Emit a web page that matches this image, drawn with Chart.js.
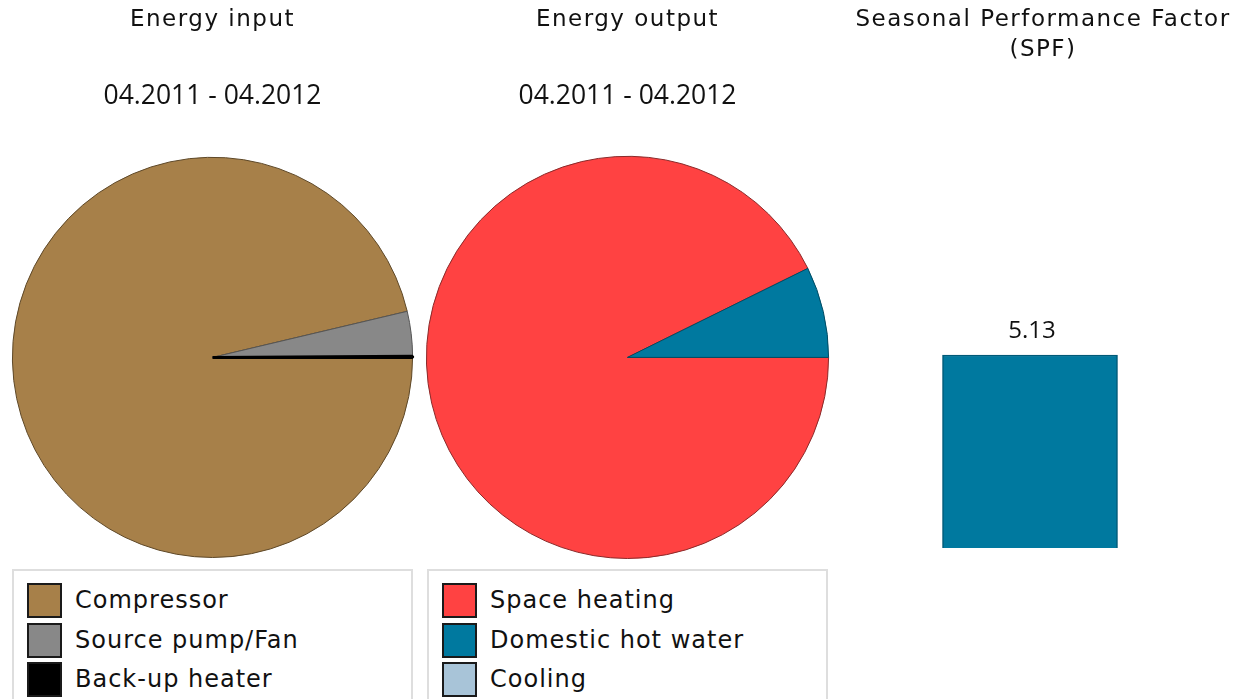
<!DOCTYPE html>
<html>
<head>
<meta charset="utf-8">
<title>Energy input / output and SPF</title>
<script src="https://cdn.jsdelivr.net/npm/chart.js@4.4.1/dist/chart.umd.min.js"></script>
<style>
    html, body { margin: 0; padding: 0; background: #fff; }
    body { width: 1239px; height: 699px; position: relative; overflow: hidden; }
    .panel { position: absolute; top: 0; height: 560px; }
    .legend-box {
        position: absolute; top: 569px; height: 150px;
        border: 2px solid #dedede; box-sizing: border-box; background: #fff;
    }
    .legend-item { position: absolute; left: 0; height: 36px; width: 100%; }
    .legend-swatch {
        position: absolute; left: 13px; top: 0; width: 35px; height: 35px;
        border: 2px solid #1a1a1a; box-sizing: border-box;
    }
    .legend-text {
        position: absolute; left: 61px; top: 0; line-height: 35px;
        font-family: "DejaVu Sans", Verdana, sans-serif; font-size: 24px;
        letter-spacing: 1px; color: #111; white-space: nowrap;
    }
</style>
</head>
<body>
<div class="panel" style="left:0;width:425px;"><canvas id="inputChart"></canvas></div>
<div class="panel" style="left:415px;width:425px;"><canvas id="outputChart"></canvas></div>
<div class="panel" style="left:847px;width:392px;"><canvas id="spfChart"></canvas></div>
<div class="legend-box" id="inputLegend" style="left:12px;width:401px;"></div>
<div class="legend-box" id="outputLegend" style="left:427px;width:401px;"></div>

<script>
// Data (shares in %)
const periodLabel = '04.2011 - 04.2012';

const inputLabels = ['Compressor', 'Source pump/Fan', 'Back-up heater'];
const inputValues = [96.3, 3.6, 0.1];
const inputColors = ['#A78049', '#888888', '#000000'];
const inputBorders = ['#5e4828', '#555555', '#000000'];

const outputLabels = ['Space heating', 'Domestic hot water', 'Cooling'];
const outputValues = [92.7, 7.3, 0];
const outputColors = ['#FF4242', '#00799F', '#A8C4D8'];
const outputBorders = ['#8a2a2a', '#004b63', '#4a6070'];

const spfLabels = ['SPF'];
const spfValues = [5.13];
const spfAxisMax = 6;

const titleFont = { family: 'DejaVu Sans', size: 23, weight: 'normal', lineHeight: 30 / 23 };
const subtitleFont = { family: 'Open Sans', size: 26.5, weight: 'normal', lineHeight: 1.2 };
const textColor = '#111111';

// titles in the reference are spaced out a bit
const spacedTitle = {
    id: 'spacedTitle',
    beforeDraw(chart) {
        const tb = chart.titleBlock;
        if (!tb || tb._spaced) return;
        const orig = tb.draw;
        tb.draw = function(area) {
            this.ctx.save();
            this.ctx.letterSpacing = '1.5px';
            orig.call(this, area);
            this.ctx.restore();
        };
        tb._spaced = true;
    }
};

// value label above the SPF bar
const barValueLabel = {
    id: 'barValueLabel',
    afterDatasetsDraw(chart) {
        const ctx = chart.ctx;
        const meta = chart.getDatasetMeta(0);
        ctx.save();
        ctx.font = '24px "Open Sans"';
        ctx.fillStyle = textColor;
        ctx.textAlign = 'center';
        ctx.textBaseline = 'middle';
        meta.data.forEach((bar, i) => {
            ctx.fillText(spfValues[i].toFixed(2), bar.x + 2, bar.y - 24);
        });
        ctx.restore();
    }
};

function makePie(canvasId, title, labels, values, colors, borders, widths) {
    return new Chart(document.getElementById(canvasId), {
        type: 'pie',
        data: {
            labels: labels,
            datasets: [{
                data: values,
                backgroundColor: colors,
                borderColor: borders,
                borderWidth: widths
            }]
        },
        options: {
            responsive: true,
            maintainAspectRatio: false,
            animation: false,
            rotation: 90,
            layout: { padding: { bottom: 1 } },
            plugins: {
                legend: { display: false },
                tooltip: { enabled: false },
                title: {
                    display: true,
                    text: title,
                    color: textColor,
                    font: titleFont,
                    padding: { top: 5, bottom: 46 }
                },
                subtitle: {
                    display: true,
                    text: periodLabel,
                    color: textColor,
                    font: subtitleFont,
                    padding: { top: 0, bottom: 43 }
                }
            }
        },
        plugins: [spacedTitle]
    });
}

makePie('inputChart', 'Energy input', inputLabels, inputValues, inputColors, inputBorders, [1, 1, 3]);
makePie('outputChart', 'Energy output', outputLabels, outputValues, outputColors, outputBorders, [1, 1, 0]);

// SPF bar chart
const pxPerUnit = 193 / 5.13;
const spfTop = 548 - spfAxisMax * pxPerUnit;
new Chart(document.getElementById('spfChart'), {
    type: 'bar',
    data: {
        labels: spfLabels,
        datasets: [{
            data: spfValues,
            backgroundColor: '#00799F',
            borderColor: '#005a78',
            borderWidth: 1.5,
            barThickness: 175
        }]
    },
    options: {
        responsive: true,
        maintainAspectRatio: false,
        animation: false,
        layout: { padding: { bottom: 12 } },
        scales: {
            x: { display: false },
            y: {
                position: 'right',
                min: 0,
                max: spfAxisMax,
                ticks: { display: false },
                grid: { display: false },
                border: { display: false },
                afterFit: (scale) => { scale.width = 26; }
            }
        },
        plugins: {
            legend: { display: false },
            tooltip: { enabled: false },
            title: {
                display: true,
                text: ['Seasonal Performance Factor', '(SPF)'],
                color: textColor,
                font: titleFont,
                padding: { top: 5, bottom: spfTop - 65 }
            }
        }
    },
    plugins: [spacedTitle, barValueLabel]
});

// HTML legends under the pies
function buildLegend(boxId, labels, colors) {
    const box = document.getElementById(boxId);
    let html = '';
    labels.forEach((label, i) => {
        html += `
            <div class="legend-item" style="top:${12 + i * 39.5}px">
                <div class="legend-swatch" style="background:${colors[i]}"></div>
                <div class="legend-text">${label}</div>
            </div>
        `;
    });
    box.innerHTML = html;
}

buildLegend('inputLegend', inputLabels, inputColors);
buildLegend('outputLegend', outputLabels, outputColors);
</script>
</body>
</html>
